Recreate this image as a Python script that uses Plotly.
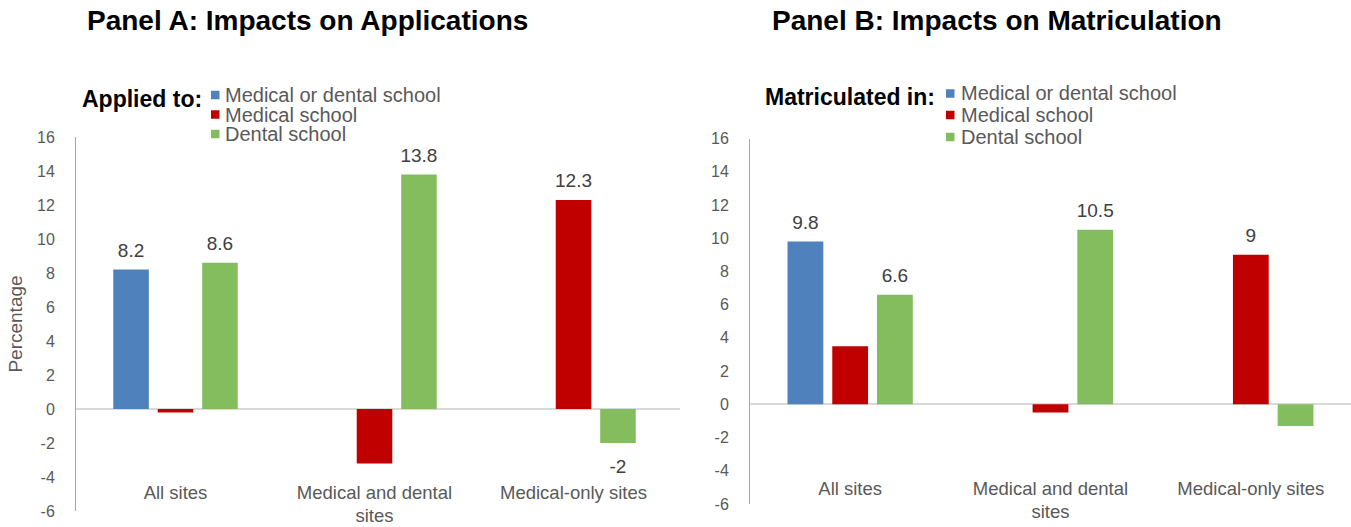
import plotly.graph_objects as go

# Site groups (x categories) and their tick labels
categories = ["All sites", "Medical and dental sites", "Medical-only sites"]
tick_lines = [["All sites"], ["Medical and dental", "sites"], ["Medical-only sites"]]

series_names = ["Medical or dental school", "Medical school", "Dental school"]
series_colors = ["#4F81BD", "#C00000", "#84BD5E"]

# Panel A: impacts on applications (percentage points)
apply_any = [8.2, None, None]
apply_med = [-0.2, -3.2, 12.3]
apply_dent = [8.6, 13.8, -2.0]
apply_labeled = [[True, False, False], [False, False, True], [True, True, True]]

# Panel B: impacts on matriculation (percentage points)
matric_any = [9.8, None, None]
matric_med = [3.5, -0.5, 9.0]
matric_dent = [6.6, 10.5, -1.3]
matric_labeled = [[True, False, False], [False, False, True], [True, True, False]]

y_ticks = list(range(-6, 17, 2))
y_tick_text = [str(t) for t in y_ticks]  # plain hyphen minus

FONT = "Liberation Sans, Arial, sans-serif"
GRAY = "#595959"
W, H = 1351, 527


def px_x(px):
    return px / W


def px_y(py):
    return 1 - py / H


def fmt(v):
    return f"{v:g}"


# category labels: 18.5px glyphs on a slightly tighter line pitch
tick_labels = ["<br>".join(f"<span style='font-size:18.5px'>{ln}</span>" for ln in lines)
               for lines in tick_lines]

fig = go.Figure()

panels = [
    ("x", "y", [apply_any, apply_med, apply_dent], apply_labeled),
    ("x2", "y2", [matric_any, matric_med, matric_dent], matric_labeled),
]

for xa, ya, series, labeled in panels:
    for k, (name, color, vals) in enumerate(zip(series_names, series_colors, series)):
        fig.add_trace(go.Bar(
            x=categories, y=vals, name=name, marker_color=color,
            marker_line_width=0, offsetgroup=str(k),
            xaxis=xa, yaxis=ya, showlegend=False, hoverinfo="skip",
        ))
    # value labels, grouped into the same slots as the bars
    for k, (vals, flags) in enumerate(zip(series, labeled)):
        ys = [v if (v is not None and f) else None for v, f in zip(vals, flags)]
        texts = [fmt(v) if v is not None else "" for v in ys]
        pos = ["bottom center" if (v is not None and v < 0) else "top center" for v in ys]
        sizes = [23 if (v is not None and v < 0) else 11 for v in ys]
        fig.add_trace(go.Scatter(
            x=categories, y=ys, mode="markers+text", text=texts,
            textposition=pos, offsetgroup=str(k),
            marker=dict(size=sizes, opacity=0, color="white"),
            textfont=dict(size=19, color="#404040", family=FONT),
            cliponaxis=False, xaxis=xa, yaxis=ya,
            showlegend=False, hoverinfo="skip",
        ))

axis_common = dict(showgrid=False, zeroline=False, showline=False, ticks="",
                   tickfont=dict(size=17.3, color=GRAY, family=FONT),
                   type="category", categoryorder="array", categoryarray=categories,
                   tickmode="array", tickvals=categories, ticktext=tick_labels,
                   anchor="free")
yaxis_common = dict(range=[-6, 16], tickmode="array", tickvals=y_ticks,
                    ticktext=y_tick_text,
                    showgrid=False, zeroline=True, zerolinecolor="#D9D9D9",
                    zerolinewidth=2, showline=True, linecolor="#A6A6A6",
                    linewidth=1, ticks="", ticklabelstandoff=17,
                    tickfont=dict(size=16, color=GRAY, family=FONT))

# Legend blocks: a bold heading followed by colour keys and series names
annotations = []
shapes = []
legend_blocks = [
    # heading, heading right edge, heading y, key left, text left, row centres
    ("Applied to:", 204, 99, 211, 223, [95, 114.5, 134]),
    ("Matriculated in:", 937, 97, 946, 959, [93.5, 115, 137]),
]
for heading, head_right, head_y, key_left, text_left, rows in legend_blocks:
    annotations.append(dict(
        text=f"<b>{heading}</b>", x=px_x(head_right), y=px_y(head_y),
        xref="paper", yref="paper", showarrow=False, xanchor="right",
        yanchor="middle", font=dict(size=23, color="black", family=FONT)))
    for color, ry in zip(series_colors, rows):
        shapes.append(dict(
            type="rect", xref="paper", yref="paper",
            x0=px_x(key_left), x1=px_x(key_left + 8.5),
            y0=px_y(ry + 4.25), y1=px_y(ry - 4.25),
            fillcolor=color, line=dict(width=0)))
    # one text block; the line pitch follows the block's base font size
    pitch = (rows[-1] - rows[0]) / (len(rows) - 1)
    body = "<br>".join(
        f"<span style='font-size:20px'>{name}</span>" for name in series_names)
    annotations.append(dict(
        text=body, x=px_x(text_left), y=px_y(rows[1]),
        xref="paper", yref="paper", showarrow=False, xanchor="left",
        yanchor="middle", align="left",
        font=dict(size=pitch / 1.3, color=GRAY, family=FONT)))

annotations += [
    dict(text="<b>Panel A: Impacts on Applications</b>", x=px_x(307.5),
         y=px_y(20), xref="paper", yref="paper", showarrow=False,
         xanchor="center", yanchor="middle",
         font=dict(size=28, color="black", family=FONT)),
    dict(text="<b>Panel B: Impacts on Matriculation</b>", x=px_x(997),
         y=px_y(20), xref="paper", yref="paper", showarrow=False,
         xanchor="center", yanchor="middle",
         font=dict(size=28, color="black", family=FONT)),
]

fig.update_layout(
    width=W, height=H,
    margin=dict(l=0, r=0, t=0, b=0, autoexpand=False),
    paper_bgcolor="white", plot_bgcolor="white",
    font=dict(family=FONT, color=GRAY),
    barmode="group", bargap=0.33, bargroupgap=0.2,
    scattermode="group", scattergap=0.33,
    showlegend=False,
    xaxis=dict(domain=[px_x(76), px_x(680)], range=[-0.5, 2.535],
               position=px_y(481), **axis_common),
    xaxis2=dict(domain=[px_x(750), 1.0], position=px_y(477), **axis_common),
    yaxis=dict(domain=[px_y(511), px_y(137)], anchor="x",
               title=dict(text="Percentage", standoff=9,
                          font=dict(size=19, color=GRAY, family=FONT)),
               **yaxis_common),
    yaxis2=dict(domain=[px_y(504), px_y(138.5)], anchor="x2",
                **yaxis_common),
    annotations=annotations,
    shapes=shapes,
)

fig.write_html("out.html")
